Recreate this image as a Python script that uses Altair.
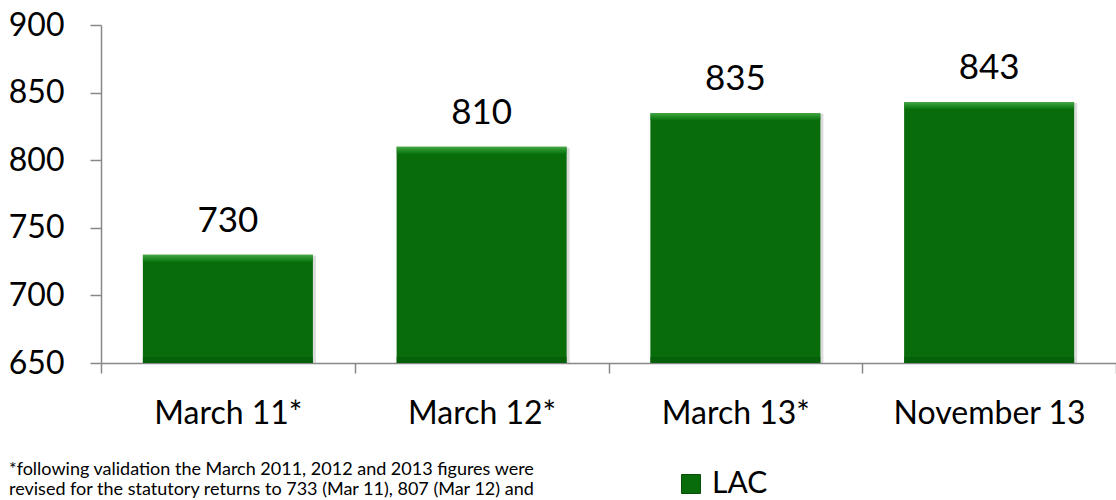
import altair as alt
import pandas as pd

# Looked-after children counts at each snapshot
periods = ["March 11*", "March 12*", "March 13*", "November 13"]
counts = [730, 810, 835, 843]
series_name = "LAC"

y_ticks = [650, 700, 750, 800, 850, 900]

footnote_lines = [
    "*following validation the March 2011, 2012 and 2013 figures were",
    "revised for the statutory returns to 733 (Mar 11),  807 (Mar 12) and",
]

FONT = "Lato"
GREEN = "#086c0b"
BAR_FRACTION = 0.67
BAR_PX = 170

df = pd.DataFrame({"period": periods, "count": counts, "series": series_name})
df["base"] = y_ticks[0]
notes = pd.DataFrame({"text": ["\n".join(footnote_lines)]})

x_enc = alt.X(
    "period:N",
    sort=periods,
    scale=alt.Scale(paddingInner=0, paddingOuter=0),
    axis=alt.Axis(
        title=None,
        labelAngle=0,
        labelFont=FONT,
        labelFontSize=32,
        labelColor="#000000",
        labelPadding=25,
        labelLimit=400,
        tickBand="extent",
        tickSize=10,
        tickColor="#888888",
        tickWidth=1.5,
        domainColor="#888888",
        domainWidth=1.5,
    ),
)
y_scale = alt.Scale(domain=[y_ticks[0], y_ticks[-1]], nice=False, zero=False)
y_enc = alt.Y(
    "count:Q",
    scale=y_scale,
    axis=alt.Axis(
        title=None,
        values=y_ticks,
        grid=False,
        labelFont=FONT,
        labelFontSize=32,
        labelColor="#000000",
        labelPadding=26,
        tickSize=11,
        tickColor="#888888",
        tickWidth=1.5,
        domainColor="#888888",
        domainWidth=1.5,
    ),
)

base = alt.Chart(df)

shadow = base.mark_bar(
    color="#bdbdbd", opacity=0.55, xOffset=3, yOffset=1,
    width=alt.RelativeBandSize(BAR_FRACTION),
).encode(x=x_enc, y=y_enc, y2="base:Q")

bars = base.mark_bar(width=alt.RelativeBandSize(BAR_FRACTION)).encode(
    x=x_enc,
    y=y_enc,
    y2="base:Q",
    color=alt.Color(
        "series:N",
        scale=alt.Scale(domain=[series_name], range=[GREEN]),
        legend=alt.Legend(
            title=None,
            orient="none",
            legendX=575,
            legendY=444,
            symbolType="square",
            symbolSize=361,
            symbolStrokeColor="#0a4d0c",
            symbolStrokeWidth=1,
            labelFont=FONT,
            labelFontSize=30,
            labelColor="#000000",
            labelOffset=6,
        ),
    ),
)

top_bevel = base.mark_tick(
    size=BAR_PX,
    thickness=7,
    yOffset=3.5,
    color=alt.Gradient(
        gradient="linear",
        x1=0, x2=0, y1=0, y2=1,
        stops=[
            alt.GradientStop(color="#5fc262", offset=0),
            alt.GradientStop(color="#2f9a33", offset=0.5),
            alt.GradientStop(color="#0c7a10", offset=1),
        ],
    ),
).encode(x=x_enc, y=y_enc)

bottom_bevel = base.mark_tick(size=BAR_PX, thickness=6, yOffset=-3, color="#055a08").encode(
    x=x_enc, y=alt.Y("base:Q", scale=y_scale)
)

values = base.mark_text(
    font=FONT, fontSize=35, color="#000000", baseline="alphabetic", dy=-23
).encode(x=x_enc, y=y_enc, text="count:Q")

note_text = alt.Chart(notes).mark_text(
    font=FONT, fontSize=18, color="#000000", align="left", baseline="alphabetic",
    lineBreak="\n", lineHeight=20,
).encode(x=alt.value(-92), y=alt.value(450), text="text:N")

chart = (
    alt.layer(shadow, bars, top_bevel, bottom_bevel, values, note_text)
    .properties(
        width=1015,
        height=338,
        autosize=alt.AutoSizeParams(type="none"),
        padding={"left": 101, "top": 25, "right": 0, "bottom": 137},
    )
    .configure_view(stroke=None)
)

chart.save("out.html", embed_options={"renderer": "svg", "actions": False})
